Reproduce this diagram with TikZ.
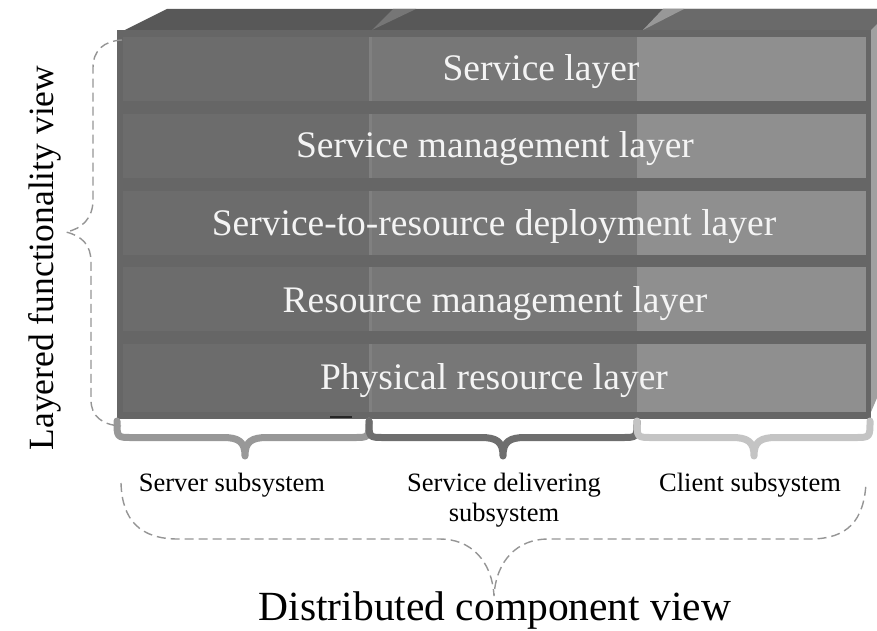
\documentclass[tikz,border=0pt]{standalone}
\usepackage{fontspec}
\setmainfont{Liberation Serif}
\definecolor{frameg}{HTML}{666666}
\definecolor{leftg}{HTML}{6C6C6C}
\definecolor{midg}{HTML}{777777}
\definecolor{clientg}{HTML}{8F8F8F}
\definecolor{divg}{HTML}{808080}
\definecolor{topl}{HTML}{585858}
\definecolor{topr}{HTML}{6A6A6A}
\definecolor{facet}{HTML}{767676}
\definecolor{sideg}{HTML}{A0A0A0}
\definecolor{dashg}{HTML}{959595}
\definecolor{braceA}{HTML}{989898}
\definecolor{braceB}{HTML}{6E6E6E}
\definecolor{braceC}{HTML}{C4C4C4}
\definecolor{labelw}{HTML}{F4F4F4}
\begin{document}
\begin{tikzpicture}[x=1pt,y=-1pt,
  layerlabel/.style={text=labelw, font=\fontsize{37.5}{40}\selectfont, anchor=base, inner sep=0pt},
  sublabel/.style={font=\fontsize{26.5}{29.5}\selectfont, anchor=base, inner sep=0pt, align=center},
  viewlabel/.style={font=\fontsize{41.5}{44}\selectfont, anchor=base, inner sep=0pt},
  bracket/.style={line width=7pt, line cap=round, line join=round},
  dashbrace/.style={draw=dashg, line width=1.4pt, dash pattern=on 9pt off 5pt, line cap=butt}]

\useasboundingbox (0,0) rectangle (877,631);

% top face of the cabinet
\fill[topl] (125,30) -- (167,9) -- (877,9) -- (877,30) -- cycle;
\fill[topr] (643,30) -- (663,9) -- (877,9) -- (877,30) -- cycle;
\fill[facet] (372,30) -- (393,9) -- (416,9) -- cycle;
\fill[facet!75!white] (643,30) -- (663,9) -- (684,9) -- cycle;
% right side face
\fill[sideg] (871,30) -- (877,24) -- (877,398) -- (871,412) -- cycle;
% front frame
\fill[frameg] (117,30) rectangle (871,419);

% layer panels, split into the three subsystem columns
\foreach \t/\h in {37/64, 114/64, 191/64, 267/64, 344/68} {
  \fill[leftg]   (123,\t) rectangle (369,{\t+\h});
  \fill[divg]    (369,\t) rectangle (372,{\t+\h});
  \fill[midg]    (372,\t) rectangle (637,{\t+\h});
  \fill[clientg] (637,\t) rectangle (866,{\t+\h});
}

% layer names
\node[layerlabel] (l1) at (541,81)  {Service layer};
\node[layerlabel] (l2) at (495,158) {Service management layer};
\node[layerlabel] (l3) at (494,235) {Service-to-resource deployment layer};
\node[layerlabel] (l4) at (495,312) {Resource management layer};
\node[layerlabel] (l5) at (494,389) {Physical resource layer};

% small mark at the foot of the server column
\draw[line width=2pt, black!85] (330,417) -- (352,417);

% solid braces under the three columns
\foreach \xl/\xm/\xr/\c in {117/245/369/braceA, 369/503/637/braceB, 637/754/870/braceC} {
  \draw[bracket, draw=\c]
    (\xl,421) .. controls (\xl,437.5) and (\xl,437.5) .. ({\xl+15},437.5)
    -- ({\xm-22},437.5) .. controls ({\xm-6},437.5) and (\xm,442) .. (\xm,456)
    .. controls (\xm,442) and ({\xm+6},437.5) .. ({\xm+22},437.5)
    -- ({\xr-15},437.5) .. controls (\xr,437.5) and (\xr,437.5) .. (\xr,421);
}

% column names
\node[sublabel] (srv) at (232,491) {Server subsystem};
\node[sublabel, anchor=north] (sdl) at (504,473) {Service delivering\\subsystem};
\node[sublabel] (cli) at (750,491) {Client subsystem};

% dashed brace spanning the layers
\draw[dashbrace] (122,40) .. controls (104,41) and (93,50) .. (93,68) -- (93,200)
  .. controls (93,218) and (82,229) .. (66,232)
  .. controls (82,236) and (91,245) .. (91,262) -- (91,400)
  .. controls (91,416) and (102,425) .. (121,426);

% dashed brace spanning the subsystems
\draw[dashbrace] (121,483) .. controls (122,520) and (140,539) .. (178,539) -- (440,539)
  .. controls (470,539) and (492,560) .. (494,596)
  .. controls (496,560) and (518,539) .. (548,539) -- (810,539)
  .. controls (848,539) and (864,520) .. (866,483);

% view names
\node[viewlabel] (dcv) at (495,620) {Distributed component view};
\node[viewlabel, font=\fontsize{35.5}{40}\selectfont, rotate=90] (lfv) at (53,258) {Layered functionality view};
\end{tikzpicture}
\end{document}
